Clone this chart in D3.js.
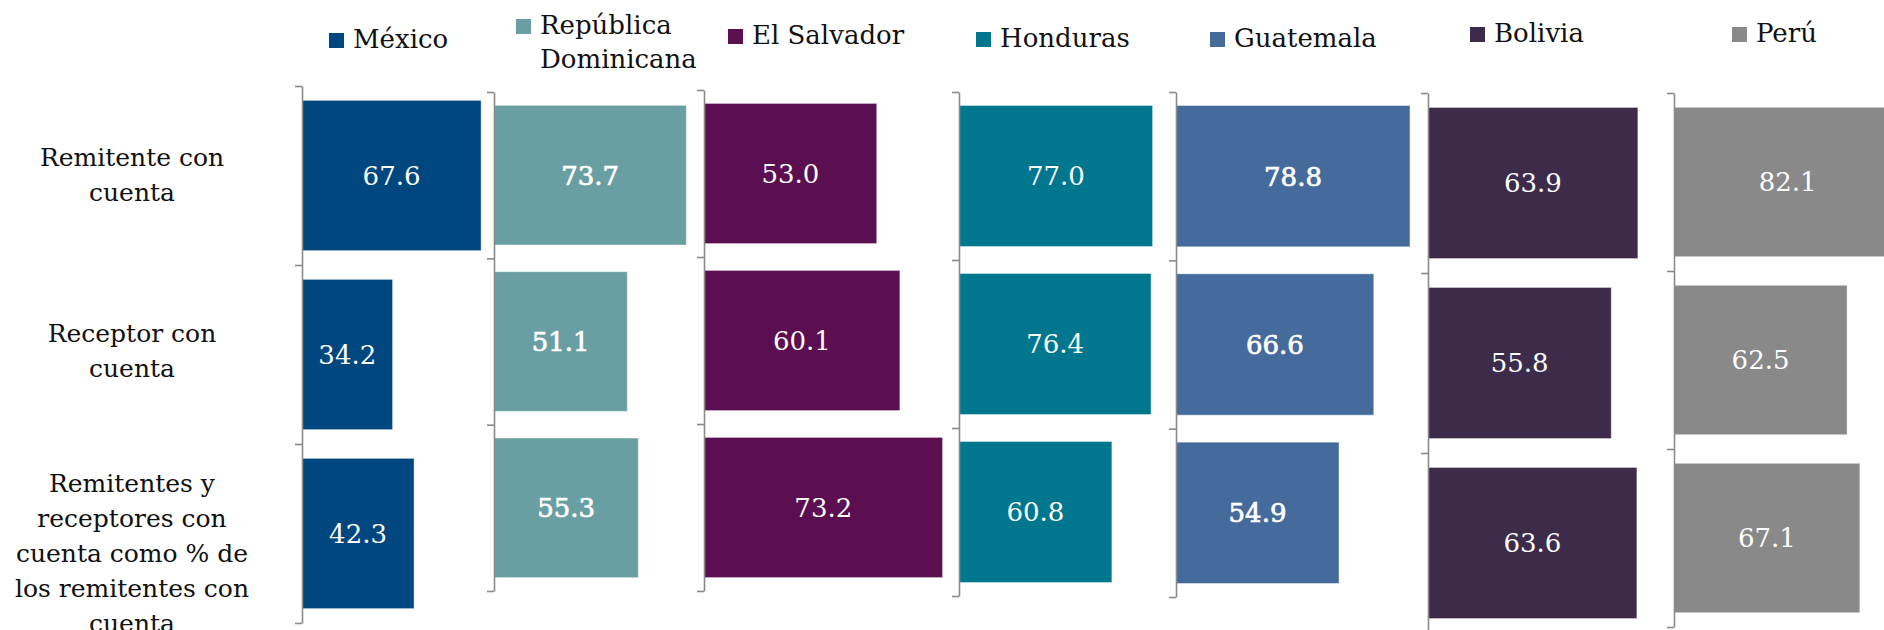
<!DOCTYPE html>
<html>
<head>
<meta charset="utf-8">
<script src="https://cdn.jsdelivr.net/npm/d3@7"></script>
<style>
  body { margin: 0; background: #fff; overflow: hidden; }
  svg { display: block; }
  text { font-family: "DejaVu Serif", "Liberation Serif", serif; }
</style>
</head>
<body>
<div id="chart"></div>
<script>
// data
var countries = ["México", "República Dominicana", "El Salvador", "Honduras", "Guatemala", "Bolivia", "Perú"];
var legendLines = [["México"], ["República", "Dominicana"], ["El Salvador"], ["Honduras"], ["Guatemala"], ["Bolivia"], ["Perú"]];
var categories = ["Remitente con cuenta", "Receptor con cuenta", "Remitentes y receptores con cuenta como % de los remitentes con cuenta"];
var categoryLines = [
  ["Remitente con", "cuenta"],
  ["Receptor con", "cuenta"],
  ["Remitentes y", "receptores con", "cuenta como % de", "los remitentes con", "cuenta"]
];
var remitenteConCuenta = [67.6, 73.7, 53.0, 77.0, 78.8, 63.9, 82.1];
var receptorConCuenta = [34.2, 51.1, 60.1, 76.4, 66.6, 55.8, 62.5];
var ambosConCuenta = [42.3, 55.3, 73.2, 60.8, 54.9, 63.6, 67.1];

// styles / layout (each panel was its own little chart)
var colors = ["#00467f", "#699ea2", "#5b0f51", "#00778f", "#446b9b", "#3c2b4b", "#898989"];
var heavyNumbers = [false, true, false, false, true, false, false];
var panelX = [302, 494, 704, 959, 1176, 1428, 1674];
var panelTop = [86, 92, 90, 92, 92, 93, 93];
var panelBottom = [623, 591, 591, 596, 597, 633, 627];
var panelK = [2.65, 2.61, 3.26, 2.515, 2.97, 3.285, 2.77];   // px per unit
var legendX = [329, 516, 728, 976, 1210, 1470, 1732];
var legendY = [48, 34, 44, 47, 47, 42, 42];
var labelShift = [8, 5, 28];

var width = 1884, height = 630;

var svg = d3.select("#chart").append("svg")
  .attr("width", width)
  .attr("height", height);

countries.forEach(function(name, i) {
  var values = [remitenteConCuenta[i], receptorConCuenta[i], ambosConCuenta[i]];
  var rows = categories.map(function(c, j) { return {cat: c, val: values[j]}; });

  var y = d3.scaleBand()
    .domain(categories)
    .range([panelTop[i], panelBottom[i]])
    .paddingInner(0.16)
    .paddingOuter(0.08);

  var x = d3.scaleLinear()
    .domain([0, 100])
    .range([panelX[i], panelX[i] + 100 * panelK[i]]);

  var g = svg.append("g").attr("class", "panel");

  g.selectAll("rect")
    .data(rows)
    .enter().append("rect")
    .attr("x", x(0))
    .attr("y", function(d) { return y(d.cat); })
    .attr("width", function(d) { return x(d.val) - x(0); })
    .attr("height", y.bandwidth())
    .attr("fill", colors[i])
    .attr("stroke", "rgba(255,255,255,0.5)")
    .attr("stroke-width", 1);

  g.selectAll("text.val")
    .data(rows)
    .enter().append("text")
    .attr("class", "val")
    .attr("x", function(d) { return (x(0) + x(d.val)) / 2; })
    .attr("y", function(d) { return y(d.cat) + y.bandwidth() / 2; })
    .attr("dy", "0.36em")
    .attr("text-anchor", "middle")
    .attr("fill", "#fff")
    .attr("stroke", heavyNumbers[i] ? "#fff" : "none")
    .attr("stroke-width", 0.7)
    .attr("font-size", 26)
    .text(function(d) { return d.val.toFixed(1); });

  // category axis: ticks at band boundaries
  var edge = d3.scaleLinear().domain([0, categories.length]).range([panelTop[i], panelBottom[i]]);
  var axis = g.append("g")
    .attr("transform", "translate(" + panelX[i] + ",0)")
    .call(d3.axisLeft(edge)
      .tickValues(d3.range(categories.length + 1))
      .tickSize(7)
      .tickSizeOuter(0)
      .tickFormat(""));
  axis.selectAll("path, line")
    .attr("stroke", "#8a8a8a")
    .attr("stroke-width", 1.6);

  // legend entry
  var lg = svg.append("g").attr("class", "legend");
  lg.append("rect")
    .attr("x", legendX[i])
    .attr("y", legendY[i] - 15)
    .attr("width", 15)
    .attr("height", 15)
    .attr("fill", colors[i]);
  lg.append("text")
    .attr("x", legendX[i] + 24)
    .attr("y", legendY[i])
    .attr("font-size", 26)
    .attr("fill", "#111")
    .selectAll("tspan")
    .data(legendLines[i])
    .enter().append("tspan")
    .attr("x", legendX[i] + 24)
    .attr("dy", function(d, k) { return k === 0 ? 0 : 34; })
    .text(function(d) { return d; });

  // category labels, taken from the first panel
  if (i === 0) {
    categories.forEach(function(c, j) {
      var lines = categoryLines[j];
      var cy = y(c) + y.bandwidth() / 2;
      var first = cy - (lines.length - 1) / 2 * 35 + labelShift[j];
      svg.append("text")
        .attr("x", 132)
        .attr("y", first)
        .attr("text-anchor", "middle")
        .attr("font-size", 25)
        .attr("fill", "#111")
        .selectAll("tspan")
        .data(lines)
        .enter().append("tspan")
        .attr("x", 132)
        .attr("dy", function(d, k) { return k === 0 ? 0 : 35; })
        .text(function(d) { return d; });
    });
  }
});
</script>
</body>
</html>
